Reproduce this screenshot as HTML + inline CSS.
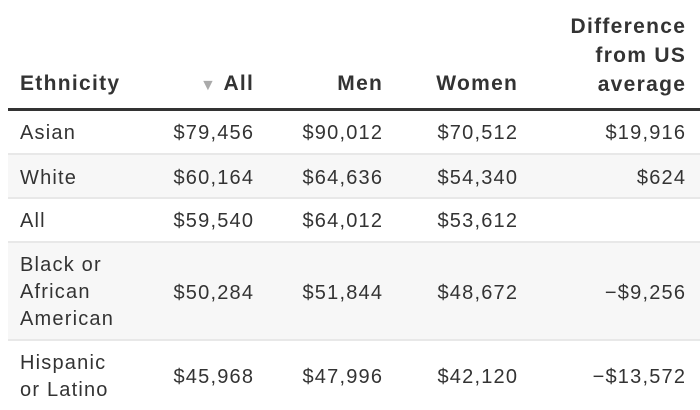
<!DOCTYPE html>
<html><head><meta charset="utf-8"><style>
body{margin:0;width:700px;height:410px;background:#fff;overflow:hidden;font-family:"Liberation Sans","DejaVu Sans",sans-serif;color:#333;position:relative}
.t{position:absolute;font-size:20px;white-space:nowrap;line-height:27px;letter-spacing:1.2px}
.r{text-align:right;margin-right:-1.2px}
.h{font-weight:bold;color:#333;font-size:21px;letter-spacing:1.3px}
.bg{position:absolute;left:8px;width:692px;background:#f7f7f7}
.ln{position:absolute;left:8px;width:692px;height:2px;background:#e8e8e8}
</style></head><body>
<div class="bg" style="top:155px;height:43px"></div>
<div class="bg" style="top:243px;height:97px"></div>
<div style="position:absolute;left:8px;top:108px;width:692px;height:3px;background:#333"></div>
<div class="ln" style="top:153px"></div>
<div class="ln" style="top:197px"></div>
<div class="ln" style="top:241px"></div>
<div class="ln" style="top:339px"></div>

<div class="t h" style="left:20px;top:70px">Ethnicity</div>
<div class="t h r" style="right:447px;top:70px"><span style="color:#aaa;font-size:16px">▼</span> All</div>
<div class="t h r" style="right:318px;top:70px">Men</div>
<div class="t h r" style="right:183px;top:70px">Women</div>
<div class="t h r" style="right:15px;top:12px;line-height:29px">Difference<br>from US<br>average</div>

<div class="t" style="left:20px;top:120px">Asian</div>
<div class="t r" style="right:447px;top:120px">$79,456</div>
<div class="t r" style="right:318px;top:120px">$90,012</div>
<div class="t r" style="right:183px;top:120px">$70,512</div>
<div class="t r" style="right:15px;top:120px">$19,916</div>

<div class="t" style="left:20px;top:165px">White</div>
<div class="t r" style="right:447px;top:165px">$60,164</div>
<div class="t r" style="right:318px;top:165px">$64,636</div>
<div class="t r" style="right:183px;top:165px">$54,340</div>
<div class="t r" style="right:15px;top:165px">$624</div>

<div class="t" style="left:20px;top:208px">All</div>
<div class="t r" style="right:447px;top:208px">$59,540</div>
<div class="t r" style="right:318px;top:208px">$64,012</div>
<div class="t r" style="right:183px;top:208px">$53,612</div>

<div class="t" style="left:20px;top:252px">Black or<br>African<br>American</div>
<div class="t r" style="right:447px;top:280px">$50,284</div>
<div class="t r" style="right:318px;top:280px">$51,844</div>
<div class="t r" style="right:183px;top:280px">$48,672</div>
<div class="t r" style="right:15px;top:280px">−$9,256</div>

<div class="t" style="left:20px;top:350px">Hispanic<br>or Latino</div>
<div class="t r" style="right:447px;top:364px">$45,968</div>
<div class="t r" style="right:318px;top:364px">$47,996</div>
<div class="t r" style="right:183px;top:364px">$42,120</div>
<div class="t r" style="right:15px;top:364px">−$13,572</div>
</body></html>
